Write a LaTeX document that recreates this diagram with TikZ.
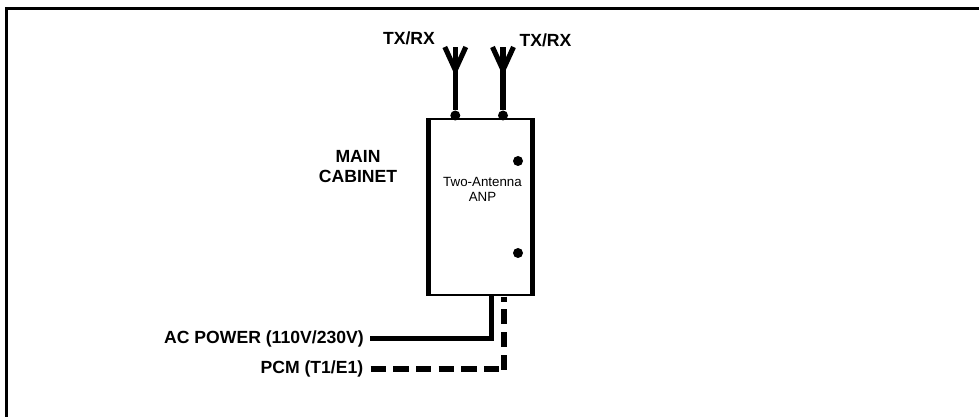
\documentclass[tikz,border=0pt]{standalone}
\usepackage{fontspec}
\setmainfont{Liberation Sans}
\tikzset{
  px/.style={x=0.75pt,y=-0.75pt},
  lab/.style={font=\fontsize{13.2pt}{15.5pt}\selectfont\bfseries,align=center,inner sep=0pt},
  small/.style={font=\fontsize{10pt}{11.3pt}\selectfont,align=center,inner sep=0pt},
  cable/.style={line width=4pt,line cap=butt},
  dotn/.style={circle,fill=black,inner sep=0pt,minimum size=7.5pt}
}
\begin{document}
\begin{tikzpicture}[px]
\useasboundingbox (0,0) rectangle (979,417);
\fill[white] (0,0) rectangle (979,417);
\draw[line width=2pt] (6.3,417) -- (6.3,8.7) -- (979,8.7);
% cabinet
\coordinate (cTL) at (428.5,119);
\coordinate (cTR) at (532.5,119);
\coordinate (cBL) at (428.5,296);
\coordinate (cBR) at (532.5,296);
\draw[line width=1.5pt] (426,119) -- (535,119);
\draw[line width=1.5pt] (426,295) -- (535,295);
\draw[line width=3.7pt] (cTL) -- (cBL);
\draw[line width=3.7pt] (cTR) -- (cBR);
% antennas
\node[dotn] (j1) at (455.3,115.5) {};
\node[dotn] (j2) at (503,115.5) {};
\coordinate (a1) at (455.3,70);
\coordinate (a2) at (503,70);
\draw[cable] (j1) -- (a1);
\draw[cable] (j2) -- (a2);
\foreach \a in {a1,a2}{
  \draw[line width=3.8pt] (\a) -- ++(-10.5,-23);
  \draw[line width=3.8pt] (\a) -- ++(0,-23);
  \draw[line width=3.8pt] (\a) -- ++(10.5,-23);
}
\node[dotn] (d1) at (518,161) {};
\node[dotn] (d2) at (518,253) {};
\node[lab] (t1) at (409,38) {TX/RX};
\node[lab] (t2) at (545.5,40) {TX/RX};
\node[lab] (mc) at (358,166.5) {MAIN\\CABINET};
\node[small] (anp) at (482.5,189.5) {Two-Antenna\\ANP};
\node[lab,anchor=east] (ac) at (364,339) {AC POWER (110V/230V)};
\node[lab,anchor=east] (pcm) at (363.5,369) {PCM (T1/E1)};
\draw[line width=3.9pt] (370,338.5) -- (493,338.5);
\draw[line width=3.9pt] (491.8,296) -- (491.8,340.5);
\draw[line width=4pt,dash pattern=on 11.5pt off 5.5pt] (370.7,369) -- (500,369);
\draw[line width=4pt] (504,296.7) -- (504,302);
\draw[line width=4pt,dash pattern=on 11.2pt off 6pt] (504,309.3) -- (504,370);
\end{tikzpicture}
\end{document}
